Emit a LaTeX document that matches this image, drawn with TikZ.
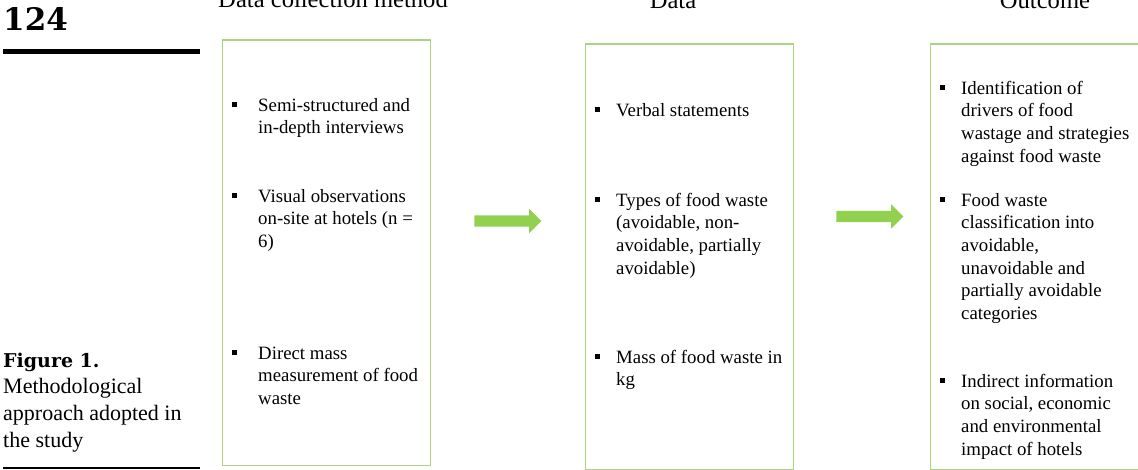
\documentclass[tikz,border=0pt]{standalone}
\usepackage{fontspec}
\setmainfont{Liberation Serif}
\newfontfamily\marginfont{DejaVu Serif}
\usepackage{xcolor}
\usetikzlibrary{positioning,shapes.arrows}

\begin{document}
\begin{tikzpicture}[x=1pt,y=-1pt]
      \definecolor{framecolor}{HTML}{A8D67F}
      \definecolor{arrowcolor}{HTML}{92D050}
      \tikzset{stagebox/.style={draw=framecolor,line width=1.2pt,anchor=north west,
          minimum width=208pt,minimum height=425pt,inner sep=0pt},
        itemtext/.style={anchor=north west,align=left,inner sep=0pt,
          font=\fontsize{18.8}{22.6}\selectfont},
        bulletmark/.style={fill=black,minimum size=5pt,inner sep=0pt},
        headtext/.style={anchor=base,font=\fontsize{24.6}{28}\selectfont},
        blockarrow/.style={single arrow,fill=arrowcolor,minimum height=67pt,
          inner xsep=0pt,inner ysep=5.5pt,single arrow head extend=6.5pt,
          single arrow head indent=0pt}}
      \path[use as bounding box,clip] (0,0) rectangle (1138,470);

      % page margin
      \node[anchor=base west,inner sep=0pt,font=\fontsize{31}{31}\marginfont\bfseries]
          (pagenum) at (3,31) {124};
      \draw[line width=5pt] (3,51.5) -- (200,51.5);
      \node[anchor=north west,align=left,inner sep=0pt,
          font=\fontsize{22}{26.7}\selectfont] (caption) at (3,348.3)
          {\strut{\fontsize{19}{26.7}\marginfont\bfseries Figure 1.}\\Methodological\\approach adopted in\\the study};
      \draw[line width=2pt] (3,468) -- (200,468);

      % headings
      \node[headtext] (headcollect) at (333,8) {Data collection method};
      \node[headtext] (headdata) at (673,8.5) {Data};
      \node[headtext] (headout) at (1045,8.5) {Outcome};

      % the three stages
      \node[stagebox] (collect) at (222,39.5) {};
      \node[stagebox] (data) at (585,43.5) {};
      \node[stagebox] (outcome) at (930,43.5) {};

      \node[blockarrow] (arrowa) at (505,221) {};
      \node[blockarrow] (arrowb) at (867,216.5) {};

      % items of the first stage
      \node[itemtext] (interviews) at (258,95.3)
          {\strut Semi-structured and\\in-depth interviews};
      \node[itemtext] (visual) at (258,186.3)
          {\strut Visual observations\\on-site at hotels (n =\\6)};
      \node[itemtext] (mass) at (258,343.3)
          {\strut Direct mass\\measurement of food\\waste};

      % items of the second stage
      \node[itemtext] (verbal) at (616,100.3) {\strut Verbal statements};
      \node[itemtext] (types) at (616,190.3)
          {\strut Types of food waste\\(avoidable, non-\\avoidable, partially\\avoidable)};
      \node[itemtext] (kg) at (616,347.3) {\strut Mass of food waste in\\kg};

      % items of the third stage
      \node[itemtext] (drivers) at (961,78.3)
          {\strut Identification of\\drivers of food\\wastage and strategies\\against food waste};
      \node[itemtext] (classes) at (961,190.3)
          {\strut Food waste\\classification into\\avoidable,\\unavoidable and\\partially avoidable\\categories};
      \node[itemtext] (impact) at (961,371.3)
          {\strut Indirect information\\on social, economic\\and environmental\\impact of hotels};

      \foreach \bx/\by [count=\i] in {234.5/104.5,234.5/195.5,234.5/352.5,
          597/109.5,597/199.5,597/356.5,942/87.5,942/199.5,942/380.5}
        \node[bulletmark] (bullet\i) at (\bx,\by) {};
  \end{tikzpicture}
\end{document}
